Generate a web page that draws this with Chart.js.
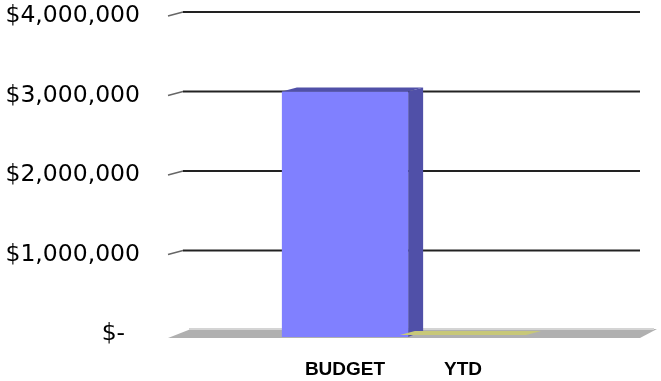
<!DOCTYPE html>
<html>
<head>
<meta charset="utf-8">
<script src="https://cdn.jsdelivr.net/npm/chart.js@4.4.1/dist/chart.umd.min.js"></script>
<style>
  html, body { margin: 0; padding: 0; background: #fff; }
</style>
</head>
<body>
<canvas id="budgetChart" width="661" height="381"></canvas>
<script>
// data
var categories = ['BUDGET', 'YTD'];
var amounts = [3000000, 0];
var barColors = ['#8080ff', '#c8c878'];
var sideColors = ['#5050a8', '#a0a060'];
var yTicks = [0, 1000000, 2000000, 3000000, 4000000];

// empty slots either side so the two bars sit in the middle of the floor
var labels = [''].concat(categories).concat(['']);
var values = [null].concat(amounts).concat([null]);
var colors = ['#fff'].concat(barColors).concat(['#fff']);
var sides = ['#fff'].concat(sideColors).concat(['#fff']);

function money(v) {
  if (v === 0) return '$-  ';
  return '$' + v.toLocaleString('en-US');
}

var DX = 15, DY = 4;

// back wall gridlines + floor, drawn like the old 3d excel chart
var wallPlugin = {
  id: 'wall',
  beforeDatasetsDraw: function(chart) {
    var ctx = chart.ctx, a = chart.chartArea, y = chart.scales.y;
    ctx.save();
    // floor
    var base = y.getPixelForValue(0);
    ctx.fillStyle = '#b0b0b0';
    ctx.beginPath();
    ctx.moveTo(a.left, base + 8);
    ctx.lineTo(a.left + DX + 8, base - 1);
    ctx.lineTo(a.right + 17, base - 1);
    ctx.lineTo(a.right, base + 8);
    ctx.closePath();
    ctx.fill();
    ctx.fillStyle = '#d4d4d4';
    ctx.fillRect(a.left + DX + 6, base - 2, a.right - a.left - DX + 8, 2);
    // gridlines
    yTicks.forEach(function(t) {
      if (t === 0) return;
      var py = y.getPixelForValue(t);
      ctx.strokeStyle = '#666';
      ctx.lineWidth = 1.5;
      ctx.beginPath();
      ctx.moveTo(a.left, py + DY);
      ctx.lineTo(a.left + DX, py);
      ctx.stroke();
      ctx.strokeStyle = '#222';
      ctx.lineWidth = 2;
      ctx.beginPath();
      ctx.moveTo(a.left + DX, py);
      ctx.lineTo(a.right, py);
      ctx.stroke();
    });
    ctx.restore();
  },
  afterDatasetsDraw: function(chart) {
    var ctx = chart.ctx;
    var meta = chart.getDatasetMeta(0);
    ctx.save();
    meta.data.forEach(function(bar, i) {
      if (values[i] === null) return;
      var half = bar.width / 2;
      var x1 = bar.x - half, x2 = bar.x + half;
      var top = bar.y, bottom = bar.base + 7;
      if (bar.base - bar.y < 4) {
        // nearly nothing: just a tinted patch on the floor
        ctx.fillStyle = colors[i];
        ctx.beginPath();
        ctx.moveTo(x1, bar.base + 5);
        ctx.lineTo(x1 + DX, bar.base + 1);
        ctx.lineTo(x2 + DX, bar.base + 1);
        ctx.lineTo(x2, bar.base + 5);
        ctx.closePath();
        ctx.fill();
        return;
      }
      // side
      ctx.fillStyle = sides[i];
      ctx.beginPath();
      ctx.moveTo(x2, top);
      ctx.lineTo(x2 + DX, top - DY);
      ctx.lineTo(x2 + DX, bottom - DY - 2);
      ctx.lineTo(x2, bottom);
      ctx.closePath();
      ctx.fill();
      // top
      ctx.beginPath();
      ctx.moveTo(x1, top);
      ctx.lineTo(x1 + DX, top - DY);
      ctx.lineTo(x2 + DX, top - DY);
      ctx.lineTo(x2, top);
      ctx.closePath();
      ctx.fill();
      // front face extended down to the floor front edge
      ctx.fillStyle = colors[i];
      ctx.fillRect(x1, top, x2 - x1, bottom - top);
    });
    ctx.restore();
  }
};

var ctx = document.getElementById('budgetChart');

var barChart = new Chart(ctx, {
  type: 'bar',
  data: {
    labels: labels,
    datasets: [{
      data: values,
      backgroundColor: 'rgba(0,0,0,0)',
      borderWidth: 0,
      categoryPercentage: 1.0,
      barPercentage: 1.07
    }]
  },
  options: {
    responsive: false,
    maintainAspectRatio: false,
    animation: false,
    layout: { padding: { top: 12, right: 21, bottom: 0, left: 0 } },
    plugins: {
      legend: { display: false },
      tooltip: { enabled: false }
    },
    scales: {
      x: {
        grid: { display: false, drawTicks: false },
        border: { display: false },
        afterFit: function(s) { s.height = 51; },
        ticks: {
          padding: 28,
          maxRotation: 0,
          color: '#000',
          font: { family: '"Liberation Sans", sans-serif', size: 19, weight: 'bold' }
        }
      },
      y: {
        min: 0,
        max: 4000000,
        grid: { display: false, drawTicks: false },
        border: { display: false },
        afterFit: function(s) {
          s.width = 168;
          s.paddingTop = 0;
          s.paddingBottom = 0;
        },
        ticks: {
          stepSize: 1000000,
          padding: 28,
          labelOffset: 4,
          color: '#000',
          font: { family: '"DejaVu Sans", sans-serif', size: 23.5, lineHeight: 1 },
          callback: function(v) { return money(v); }
        }
      }
    }
  },
  plugins: [wallPlugin]
});
</script>
</body>
</html>
